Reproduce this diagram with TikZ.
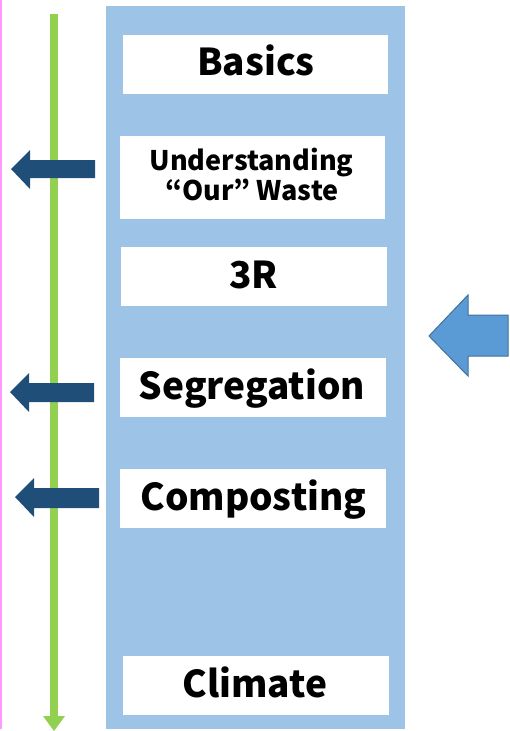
\documentclass[tikz,border=0pt]{standalone}
\usepackage{fontspec}
\setmainfont{Noto Sans CJK JP}
\definecolor{panelblue}{HTML}{9DC3E6}
\definecolor{darkarrow}{HTML}{1F4E79}
\definecolor{lightarrow}{HTML}{5B9BD5}
\definecolor{lightarrowedge}{HTML}{41719C}
\definecolor{timegreen}{HTML}{92D050}
\definecolor{pinkline}{HTML}{FF99FF}
\tikzset{
  topicbox/.style={fill=white, draw=none, inner sep=0pt, minimum height=59pt, minimum width=266pt},
  bigtext/.style={anchor=base, inner sep=0pt, font=\bfseries\fontsize{37}{37}\selectfont},
  smalltext/.style={anchor=base, inner sep=0pt, font=\bfseries\fontsize{27}{27}\selectfont},
  leftarrow/.style={fill=darkarrow},
}
\begin{document}
\begin{tikzpicture}[x=1pt, y=-1pt]
\useasboundingbox (0,0) rectangle (509,731);
% pink line
\fill[pinkline] (0,0) rectangle (2,729);
% blue panel
\fill[panelblue] (106,6) rectangle (405,729);
% green timeline
\coordinate (gtop) at (54,14);
\coordinate (gend) at (54,716);
\draw[timegreen, line width=7.5pt] (gtop) -- (gend);
\fill[timegreen] (43,716) -- (65,716) -- (54,731) -- cycle;
% boxes
\node[topicbox, minimum width=265pt] (basics) at (255.5,64.5) {};
\node[topicbox, minimum width=265pt, minimum height=83pt] (under) at (252.5,177.5) {};
\node[topicbox] (threer) at (254,276.5) {};
\node[topicbox] (segr) at (253,387.5) {};
\node[topicbox] (comp) at (253,498.5) {};
\node[topicbox] (clim) at (256,685.5) {};
% texts
\node[bigtext] (tbasics) at (256,75) {Basics};
\node[smalltext] (tunder1) at (251.5,170) {Understanding};
\node[smalltext] (tunder2) at (252,200) {“Our” Waste};
\node[bigtext] (tthreer) at (253.5,288) {3R};
\node[bigtext] (tsegr) at (252,399) {Segregation};
\node[bigtext] (tcomp) at (253.5,510) {Composting};
\node[bigtext] (tclim) at (255,697) {Climate};
% dark arrows
\fill[leftarrow] (11,169) -- (30,150) -- (30,160) -- (95,160) -- (95,178) -- (30,178) -- (30,189) -- cycle;
\fill[leftarrow] (10,392) -- (29,373) -- (29,383) -- (94,383) -- (94,402) -- (29,402) -- (29,412) -- cycle;
\fill[leftarrow] (15,497) -- (34,478) -- (34,488) -- (99,488) -- (99,508) -- (34,508) -- (34,517) -- cycle;
% right arrow
\filldraw[fill=lightarrow, draw=lightarrowedge, line width=1pt] (429,336) -- (468,295) -- (468,315) -- (508,315) -- (508,356) -- (468,356) -- (468,376) -- cycle;
\end{tikzpicture}
\end{document}
